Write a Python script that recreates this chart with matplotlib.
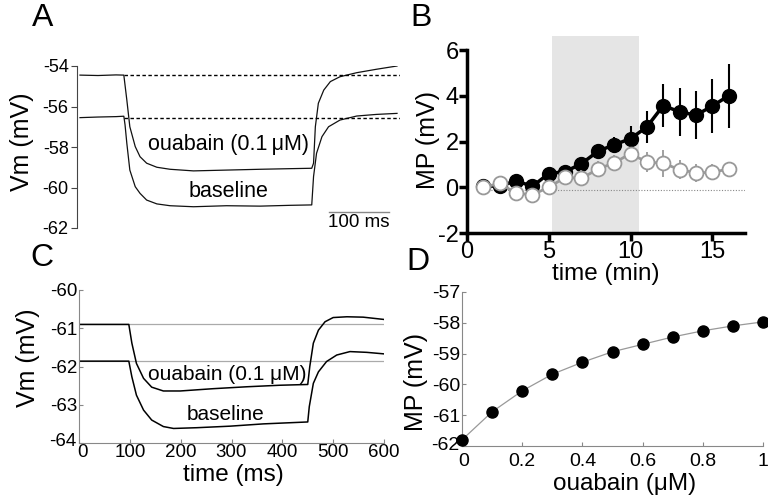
import matplotlib
matplotlib.use("Agg")
import matplotlib.pyplot as plt
from matplotlib.transforms import ScaledTranslation

plt.rcParams['font.family'] = ['Liberation Sans', 'DejaVu Sans']
plt.rcParams['axes.unicode_minus'] = False

W, H = 768, 501

# ---- panel A: recorded traces (time ms, Vm mV) ----
a_t_ouabain = [0, 30, 60, 73, 78, 83, 92, 100, 111, 128, 150, 189, 244, 300, 350, 386,
               389, 392, 397, 406, 417, 433, 461, 494, 528]
a_v_ouabain = [-54.45, -54.47, -54.44, -54.45, -55.68, -57.0, -57.98, -58.48, -58.8, -59.0,
               -59.1, -59.18, -59.14, -59.1, -59.07, -59.05,
               -58.8, -57.0, -55.84, -55.19, -54.77, -54.53, -54.33, -54.16, -54.0]
a_t_base = [0, 30, 60, 73, 75, 78, 83, 92, 100, 111, 128, 150, 189, 244, 300, 350, 386,
            389, 394, 403, 414, 433, 461, 494, 528]
a_v_base = [-56.55, -56.52, -56.5, -56.48, -56.9, -57.82, -59.14, -59.96, -60.29, -60.62,
            -60.81, -60.9, -60.95, -60.9, -60.92, -60.88, -60.86,
            -59.46, -58.31, -57.49, -57.0, -56.67, -56.47, -56.39, -56.34]
a_rest = [-54.44, -56.55]
a_yticks = [-62, -60, -58, -56, -54]

# ---- panel B: MP over time ----
b_time = list(range(1, 17))
b_ouabain = [0.05, 0.05, 0.28, 0.04, 0.6, 0.68, 1.03, 1.57, 1.86, 2.12, 2.64, 3.57, 3.3, 3.15, 3.55, 4.0]
b_ouabain_err = [0.1, 0.1, 0.15, 0.15, 0.2, 0.2, 0.25, 0.3, 0.35, 0.55, 0.7, 0.95, 1.05, 1.05, 1.2, 1.4]
b_control = [0.0, 0.17, -0.26, -0.33, 0.0, 0.43, 0.39, 0.79, 1.07, 1.47, 1.1, 1.05, 0.77, 0.63, 0.65, 0.8]
b_control_err = [0.1, 0.1, 0.15, 0.15, 0.25, 0.3, 0.35, 0.35, 0.35, 0.3, 0.45, 0.6, 0.4, 0.4, 0.35, 0.3]
b_shade = [5.2, 10.5]

# ---- panel C: model traces ----
c_t_ouabain = [0, 98, 104, 113, 127, 143, 166, 199, 264, 330, 395, 450,
               454, 461, 471, 484, 500, 527, 559, 600]
c_v_ouabain = [-60.9, -60.9, -61.39, -61.92, -62.31, -62.54, -62.64, -62.64, -62.58, -62.53, -62.49, -62.47,
               -62.0, -61.39, -61.05, -60.83, -60.72, -60.7, -60.71, -60.77]
c_t_base = [0, 98, 104, 113, 127, 143, 166, 186, 232, 297, 363, 450,
            453, 461, 471, 487, 507, 533, 566, 600]
c_v_base = [-61.86, -61.86, -62.27, -62.75, -63.14, -63.4, -63.57, -63.62, -63.6, -63.56, -63.5, -63.45,
            -63.05, -62.44, -62.14, -61.87, -61.7, -61.61, -61.63, -61.67]
c_rest = [-60.9, -61.86]

# ---- panel D: dose response ----
d_conc = [0, 0.1, 0.2, 0.3, 0.4, 0.5, 0.6, 0.7, 0.8, 0.9, 1.0]
d_mp = [-61.8, -60.89, -60.21, -59.67, -59.28, -58.94, -58.7, -58.46, -58.26, -58.1, -57.97]


def px_axes(fig, left, top, right, bottom):
    return fig.add_axes([left / W, 1 - bottom / H, (right - left) / W, (bottom - top) / H])


def ftext(fig, x, y, s, size, **kw):
    fig.text(x / W, 1 - y / H, s, ha='center', va='center', fontsize=size, **kw)


def nudge(label, dx, dy):
    # shift a tick label by a few pixels so corner labels do not collide
    label.set_transform(label.get_transform() + ScaledTranslation(dx / 100, dy / 100, fig.dpi_scale_trans))


fig = plt.figure(figsize=(W / 100, H / 100), dpi=100)

# Panel A
ax = px_axes(fig, 77, 66, 400, 228)
ax.plot(a_t_ouabain, a_v_ouabain, color='#111111', lw=0.9)
ax.plot(a_t_base, a_v_base, color='#111111', lw=0.9)
for v in a_rest:
    ax.plot([73, 533], [v, v], color='black', lw=1, ls=(0, (2.5, 1.8)))
ax.plot([415, 515], [-61.19, -61.19], color='#888888', lw=1, clip_on=False)
ax.text(465, -61.75, '100 ms', ha='center', va='center', fontsize=13.5, clip_on=False)
ax.text(247, -57.9, 'ouabain (0.1\u2009\u03bcM)', ha='center', va='center', fontsize=15.5)
ax.text(247, -60.2, 'baseline', ha='center', va='center', fontsize=15.5)
ax.set_xlim(-5, 533)
ax.set_ylim(-62, -54)
ax.set_yticks(a_yticks)
for s in ['top', 'right', 'bottom']:
    ax.spines[s].set_visible(False)
ax.spines['left'].set_color('#444444')
ax.set_xticks([])
ax.tick_params(axis='y', direction='out', length=4, color='#444444', labelsize=13, pad=2)
ftext(fig, 22, 142, 'Vm (mV)', 18, rotation=90)
ftext(fig, 43, 18, 'A', 23)

# Panel B
ax = px_axes(fig, 467, 50, 745, 233)
span = ax.axvspan(b_shade[0], b_shade[1], ymin=0, ymax=(6.6 + 2) / 8, color='#e5e5e5', lw=0, zorder=0)
span.set_clip_on(False)
ax.plot([0.6, 17.3], [-0.11, -0.11], color='#888888', lw=0.8, ls=(0, (1, 1.5)), zorder=1)
ax.errorbar(b_time, b_ouabain, yerr=b_ouabain_err, color='black', lw=2.5, elinewidth=1.5,
            marker='o', ms=10, mfc='black', mec='black', capsize=0, zorder=3)
ax.errorbar(b_time, b_control, yerr=b_control_err, color='#999999', lw=2, elinewidth=1.3,
            marker='o', ms=10, mfc='white', mec='#999999', mew=1.3, capsize=0, zorder=4)
ax.set_xlim(0, 17)
ax.set_ylim(-2, 6)
ax.set_xticks([0, 5, 10, 15])
ax.set_yticks([-2, 0, 2, 4, 6])
for s in ['top', 'right']:
    ax.spines[s].set_visible(False)
for s in ['left', 'bottom']:
    ax.spines[s].set_linewidth(2.5)
ax.tick_params(direction='out', length=6, width=2.5, labelsize=17, pad=0)
ftext(fig, 428, 140, 'MP (mV)', 18, rotation=90)
ftext(fig, 606, 274, 'time (min)', 17.5)
ftext(fig, 421, 18, 'B', 23)

# Panel C
ax = px_axes(fig, 79, 290, 384, 443)
for v in c_rest:
    ax.axhline(v, color='#aaaaaa', lw=0.9)
ax.plot(c_t_ouabain, c_v_ouabain, color='black', lw=1.1)
ax.plot(c_t_base, c_v_base, color='black', lw=1.1)
ax.text(291, -62.22, 'ouabain (0.1 \u03bcM)', ha='center', va='center', fontsize=15)
ax.text(288, -63.25, 'baseline', ha='center', va='center', fontsize=15)
ax.set_xlim(0, 600)
ax.set_ylim(-64, -60)
ax.set_xticks(range(0, 601, 100))
ax.set_yticks([-64, -63, -62, -61, -60])
for s in ['top', 'right']:
    ax.spines[s].set_visible(False)
for s in ['left', 'bottom']:
    ax.spines[s].set_color('#888888')
ax.tick_params(direction='in', length=3, color='#888888', labelsize=13.5, pad=1)
nudge(ax.yaxis.get_major_ticks()[0].label1, -1, 4)
nudge(ax.xaxis.get_major_ticks()[0].label1, 3, 0)
ftext(fig, 28, 358, 'Vm (mV)', 18, rotation=90)
ftext(fig, 233, 475, 'time (ms)', 17.5)
ftext(fig, 42, 258, 'C', 23)

# Panel D
ax = px_axes(fig, 462, 292, 763, 446)
ax.plot(d_conc, d_mp, color='#999999', lw=0.9, marker='o', ms=8, mfc='black', mec='black',
        clip_on=False, zorder=3)
ax.set_xlim(0, 1)
ax.set_ylim(-62, -57)
ax.set_xticks([0, 0.2, 0.4, 0.6, 0.8, 1])
ax.set_xticklabels(['0', '0.2', '0.4', '0.6', '0.8', '1'])
ax.set_yticks([-62, -61, -60, -59, -58, -57])
for s in ['top', 'right']:
    ax.spines[s].set_visible(False)
for s in ['left', 'bottom']:
    ax.spines[s].set_color('#888888')
ax.tick_params(direction='in', length=3, color='#888888', labelsize=14, pad=1)
ax.tick_params(axis='x', pad=5)
nudge(ax.yaxis.get_major_ticks()[0].label1, -1, 3)
nudge(ax.xaxis.get_major_ticks()[0].label1, 2, 0)
ftext(fig, 416, 382, 'MP (mV)', 18, rotation=90)
ftext(fig, 625, 484, 'ouabain (\u03bcM)', 17.5)
ftext(fig, 418, 262, 'D', 23)

fig.savefig('out.png', dpi=100)
